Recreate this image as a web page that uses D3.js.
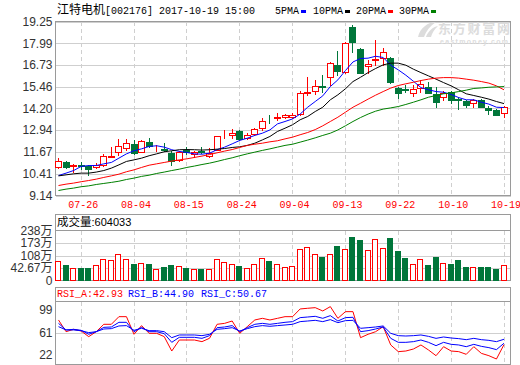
<!DOCTYPE html>
<html><head><meta charset="utf-8">
<script src="https://cdn.jsdelivr.net/npm/d3@7"></script>
<style>body{margin:0;background:#fff;overflow:hidden}</style>
</head><body><svg id="c" width="520" height="365"></svg>
<script>
const dates = ["07-21","07-24","07-25","07-26","07-27","07-28","07-31","08-01","08-02","08-03","08-04","08-07","08-08","08-09","08-10","08-11","08-14","08-15","08-16","08-17","08-18","08-21","08-22","08-23","08-24","08-25","08-28","08-29","08-30","08-31","09-01","09-04","09-05","09-06","09-07","09-08","09-11","09-12","09-13","09-14","09-15","09-18","09-19","09-20","09-21","09-22","09-25","09-26","09-27","09-28","09-29","10-09","10-10","10-11","10-12","10-13","10-16","10-17","10-18","10-19"];
const open  = [10.79,11.08,10.83,10.92,10.83,10.81,10.92,11.39,11.64,11.89,12.14,11.68,12.26,11.93,11.83,11.60,11.21,11.76,11.54,11.74,11.41,11.80,12.57,12.63,12.90,12.47,12.70,13.05,13.55,13.65,13.73,13.73,13.87,15.08,15.24,15.49,16.01,16.73,16.30,18.92,17.64,16.67,17.04,17.12,17.12,15.41,15.32,15.08,15.38,15.47,15.05,14.85,15.14,14.74,14.64,14.50,14.70,14.25,14.12,13.92];
const high  = [11.31,11.14,10.96,11.06,10.89,11.02,11.54,11.93,12.45,12.45,12.34,12.37,12.51,12.08,12.18,11.70,11.70,11.95,11.74,11.95,11.89,12.61,12.95,12.99,12.95,12.76,13.05,13.63,13.83,13.92,13.87,13.92,15.24,16.01,15.86,16.15,16.92,17.56,18.08,19.05,17.70,17.02,18.18,17.70,17.18,15.47,15.57,15.57,15.86,15.76,15.47,15.24,15.22,14.89,14.70,14.76,14.76,14.35,14.15,14.35];
const low   = [10.73,10.73,10.48,10.69,10.34,10.73,10.88,11.37,11.50,11.80,11.56,11.64,11.95,11.70,11.70,10.92,11.12,11.56,11.37,11.60,11.37,11.76,12.47,12.47,12.37,12.43,12.66,12.95,13.34,13.54,13.67,13.63,13.83,14.99,15.05,15.18,15.57,16.15,16.25,17.45,16.25,16.25,16.73,16.73,15.70,14.83,15.18,14.93,15.18,15.08,14.27,14.70,14.50,14.15,14.27,14.31,14.27,13.88,13.79,13.73];
const close = [11.12,10.79,10.92,10.86,10.69,10.92,11.45,11.43,11.99,12.18,11.60,12.32,12.03,11.97,11.76,11.17,11.66,11.64,11.64,11.66,11.60,12.57,12.61,12.80,12.43,12.66,12.99,13.44,13.50,13.71,13.79,13.79,15.08,15.14,15.51,15.43,16.83,16.40,17.99,18.03,16.28,16.79,17.08,17.47,15.76,15.08,15.26,15.34,15.61,15.12,14.60,15.08,14.66,14.68,14.41,14.70,14.31,14.12,13.83,14.27];
const ma5  = [10.30,10.44,10.59,10.83,10.88,10.88,10.98,11.06,11.31,11.56,11.74,11.85,11.99,12.03,11.95,11.80,11.70,11.64,11.56,11.54,11.60,11.80,11.95,12.14,12.34,12.47,12.63,12.76,12.95,13.30,13.44,13.59,13.87,14.27,14.60,14.93,15.47,15.86,16.40,16.90,17.10,17.12,17.23,17.16,16.71,16.44,16.13,15.78,15.41,15.28,15.18,15.14,15.01,14.83,14.70,14.70,14.56,14.45,14.27,14.25];
const ma10 = [10.28,10.34,10.40,10.44,10.44,10.50,10.59,10.73,10.92,11.12,11.21,11.31,11.45,11.56,11.68,11.74,11.80,11.81,11.80,11.78,11.80,11.83,11.87,11.93,11.97,12.05,12.18,12.37,12.57,12.86,13.05,13.25,13.54,13.73,14.02,14.27,14.70,14.99,15.34,15.76,16.01,16.28,16.52,16.73,16.83,16.83,16.71,16.48,16.28,16.09,15.90,15.70,15.51,15.28,15.05,14.95,14.85,14.74,14.60,14.48];
const ma20 = [9.72,9.80,9.86,9.94,10.01,10.09,10.19,10.28,10.38,10.52,10.63,10.77,10.90,10.98,11.06,11.14,11.21,11.27,11.35,11.43,11.52,11.62,11.72,11.81,11.93,12.05,12.12,12.18,12.26,12.32,12.43,12.53,12.67,12.80,12.97,13.19,13.44,13.69,13.98,14.27,14.50,14.74,14.97,15.18,15.38,15.53,15.63,15.72,15.82,15.90,15.96,15.99,15.99,15.96,15.90,15.84,15.76,15.67,15.51,15.28];
const ma30 = [9.43,9.51,9.57,9.65,9.70,9.78,9.84,9.90,9.97,10.07,10.15,10.25,10.32,10.42,10.50,10.59,10.67,10.77,10.85,10.94,11.02,11.12,11.23,11.33,11.45,11.56,11.66,11.76,11.85,11.95,12.05,12.12,12.24,12.36,12.49,12.63,12.76,12.95,13.19,13.44,13.67,13.87,14.04,14.16,14.23,14.31,14.43,14.56,14.70,14.85,14.95,15.05,15.10,15.18,15.26,15.36,15.39,15.43,15.45,15.47];
const volume = [78,57,42.5,42.5,42.5,57,88.6,83.3,115,88.6,62,67.4,62,35.7,47.8,57,51.5,42.5,35.7,35.7,35.7,88.6,74.3,65.8,51.5,42.5,65.8,95.5,78,65.8,46.2,51.5,141.5,152,113.4,99.2,113.4,159,141.5,205,190.7,136.2,194.4,146.8,201.3,131,95.5,62,88.6,57,99.2,67.4,62,83.3,46.2,46.2,46.2,46.2,35.7,60.4];
const rsiA = [78.7,61.7,65.1,62.7,54.5,61.7,72.4,72.4,83.5,83.5,57.9,70.5,59.3,59.3,54.5,33.6,49.6,49.6,49.6,47.2,52.1,72.4,73.8,77.2,59.3,69.0,78.7,81.1,78.7,81.1,83.5,83.5,94.7,95.7,96.6,91.8,98.1,81.1,90.8,90.8,53.0,57.9,61.7,69.0,42.4,32.7,33.6,36.5,42.4,35.1,26.8,39.9,33.6,32.7,28.8,39.9,30.2,26.8,22.0,42.93];
const rsiB = [73.8,64.2,65.1,63.7,57.9,61.7,68.0,68.5,75.3,75.3,61.7,68.0,61.7,61.7,58.8,46.2,53.5,53.5,53.5,52.0,55.9,67.5,68.5,70.5,61.7,67.5,72.4,73.8,72.4,73.8,75.3,76.3,82.1,83.0,84.0,81.1,85.0,77.2,82.1,82.6,61.7,63.2,65.6,68.5,52.0,46.2,46.2,47.2,49.6,46.2,41.4,46.2,43.3,42.4,39.9,43.3,40.4,38.5,35.6,44.90];
const rsiC = [69.0,64.2,64.2,63.2,60.3,61.7,65.6,66.1,70.0,70.5,63.7,66.6,63.2,63.2,61.7,53.0,56.9,56.9,56.9,55.9,57.9,65.1,66.1,67.5,62.7,66.1,69.0,70.5,69.5,70.5,71.4,72.4,76.3,77.2,78.2,76.3,79.2,74.8,77.7,78.2,66.6,67.5,68.5,70.0,59.3,55.9,55.4,55.9,56.9,54.9,52.0,54.0,52.5,51.6,50.1,52.0,50.1,49.1,47.2,50.67];
const priceTicks = [9.14,10.41,11.67,12.94,14.20,15.46,16.73,17.99,19.25];
const dateTicks = ["07-26","08-04","08-15","08-24","09-04","09-13","09-22","10-10","10-19"];
const volTickValues = [-22.54,42.67,107.88,173.09,238.3];
const volTickLabels = ["0","42.67万","108万","173万","238万"];
const rsiTickValues = [22,60.5,99];
const rsiTickLabels = ["22","61","99"];
const maNames = ["5PMA","10PMA","20PMA","30PMA"];
const maColors = ["#0000ff","#000000","#ff0000","#008000"];
const stockTitle = "江特电机";
const stockInfo = "[002176] 2017-10-19 15:00";
const volHeader = ["成交量", ":604033"];
const rsiHeader = ["RSI_A:42.93","RSI_B:44.90","RSI_C:50.67"];

const RED="#ff0000", GRN="#00763a", GRID="#cfcfcf", BORDER="#9a9a9a";
const svg=d3.select("#c");
svg.append("rect").attr("width",520).attr("height",365).attr("fill","#fff");
const L=55.5, R=510.5;
const P={mt:21.5,mb:195.5, vt:214.5, vh:230.5, vb:280.5, rt:287.5, rh:301.5, rb:364.5};
const x=d3.scalePoint().domain(dates).range([58,503.5]);
const xi=d=>Math.round(x(d));
const y=d3.scaleLinear().domain([9.14,19.25]).range([P.mb,P.mt]);
const yv=d3.scaleLinear().domain([volTickValues[0],volTickValues[4]]).range([P.vb,P.vh]);
const yr=d3.scaleLinear().domain([22,99]).range([359,306]);
const idx=d3.range(dates.length);
const sansF='"Liberation Sans","Noto Sans CJK SC",Arial,sans-serif';
const monoF='"Liberation Mono","DejaVu Sans Mono","Noto Sans CJK SC",monospace';

// grids
const g0=svg.append("g").attr("shape-rendering","crispEdges");
g0.selectAll(".hg").data(priceTicks).join("line").attr("x1",L).attr("x2",R)
 .attr("y1",d=>Math.round(y(d))+0.5).attr("y2",d=>Math.round(y(d))+0.5).attr("stroke",GRID);
g0.selectAll(".hv").data(volTickValues.slice(1,4)).join("line").attr("x1",L).attr("x2",R)
 .attr("y1",d=>Math.round(yv(d))+0.5).attr("y2",d=>Math.round(yv(d))+0.5).attr("stroke",GRID);
g0.append("line").attr("x1",L).attr("x2",R).attr("y1",Math.round(yr(60.5))+0.5).attr("y2",Math.round(yr(60.5))+0.5).attr("stroke",GRID);
[[P.mt,P.mb],[P.vh,P.vb],[P.rh,P.rb]].forEach(([a,b])=>{
 g0.append("g").selectAll("line").data(dateTicks).join("line")
  .attr("x1",d=>xi(d)+0.5).attr("x2",d=>xi(d)+0.5).attr("y1",a).attr("y2",b)
  .attr("stroke",GRID).attr("stroke-dasharray","4,3");
});
// watermark
const wm=svg.append("g").attr("fill","#dcdcdc");
wm.append("path").attr("d","M418,37 C420,28 428,22 436,22 C430,26 426,31 424,37 Z M426,37 C428,31 433,27 438,26 C434,30 432,33 431,37 Z");
wm.append("text").attr("x",438).attr("y",33).attr("font-family",'"Noto Sans CJK SC",sans-serif').attr("font-weight","bold").attr("font-size",13).attr("textLength",72).text("东方财富网");
wm.append("text").attr("x",440).attr("y",44).attr("font-family",sansF).attr("font-weight","bold").attr("font-size",7).attr("textLength",68).text("eastmoney.com");

// borders
const gb=svg.append("g").attr("fill","none").attr("stroke",BORDER).attr("shape-rendering","crispEdges");
gb.append("rect").attr("x",L).attr("y",P.mt).attr("width",R-L).attr("height",P.mb-P.mt);
gb.append("rect").attr("x",L).attr("y",P.vt).attr("width",R-L).attr("height",P.vb-P.vt);
gb.append("line").attr("x1",L).attr("x2",R).attr("y1",P.vh).attr("y2",P.vh);
gb.append("rect").attr("x",L).attr("y",P.rt).attr("width",R-L).attr("height",P.rb-P.rt);
gb.append("line").attr("x1",L).attr("x2",R).attr("y1",P.rh).attr("y2",P.rh);

// axes
function styleAxis(g){g.select(".domain").remove();g.selectAll("line").remove();
 g.selectAll("text").attr("font-family",sansF).attr("font-size",12).attr("fill","#333");}
svg.append("g").attr("transform",`translate(${L-2},0)`)
 .call(d3.axisLeft(y).tickValues(priceTicks).tickSize(0).tickPadding(1).tickFormat(d3.format(".2f"))).call(styleAxis);
svg.append("g").attr("transform",`translate(${L-2},0)`)
 .call(d3.axisLeft(yv).tickValues(volTickValues).tickSize(0).tickPadding(1).tickFormat((d,i)=>volTickLabels[i])).call(styleAxis);
const ra=svg.append("g").attr("transform",`translate(${L-2},0)`)
 .call(d3.axisLeft(yr).tickValues(rsiTickValues).tickSize(0).tickPadding(1).tickFormat((d,i)=>rsiTickLabels[i])).call(styleAxis);
ra.selectAll(".tick").attr("transform",(d,i)=>`translate(0,${yr(d)+[-4,0.5,4][i]})`);
const xa=svg.append("g").attr("transform",`translate(2,${P.mb+1})`)
 .call(d3.axisBottom(x).tickValues(dateTicks).tickSize(0).tickPadding(4));
xa.select(".domain").remove();
xa.selectAll("text").attr("font-family",monoF).attr("font-size",10).attr("fill",RED);

// candles
const up=i=>close[i]>=open[i];
const gc=svg.append("g").attr("shape-rendering","crispEdges");
const cg=gc.selectAll("g").data(idx).join("g");
cg.append("line").attr("x1",i=>xi(dates[i])+0.5).attr("x2",i=>xi(dates[i])+0.5)
 .attr("y1",i=>Math.round(y(high[i]))).attr("y2",i=>Math.round(y(low[i]))+1)
 .attr("stroke",i=>up(i)?RED:GRN);
cg.append("rect").attr("x",i=>xi(dates[i])-2.5).attr("width",6)
 .attr("y",i=>Math.round(y(Math.max(open[i],close[i])))+0.5)
 .attr("height",i=>Math.max(0,Math.round(y(Math.min(open[i],close[i])))-Math.round(y(Math.max(open[i],close[i])))))
 .attr("fill",i=>up(i)?"#fff":GRN).attr("stroke",i=>up(i)?RED:GRN);

// MA lines
[ma5,ma10,ma20,ma30].forEach((s,k)=>{
 svg.append("path").datum(s).attr("fill","none").attr("stroke",maColors[k]).attr("stroke-width",1)
  .attr("d",d3.line().x((d,i)=>x(dates[i])+0.5).y(d=>y(d)));
});

// volume
const gv=svg.append("g").attr("shape-rendering","crispEdges");
gv.selectAll("rect").data(idx).join("rect")
 .attr("x",i=>xi(dates[i])-2.5).attr("width",5)
 .attr("y",i=>Math.round(yv(volume[i]))+0.5)
 .attr("height",i=>P.vb-0.5-(Math.round(yv(volume[i]))+0.5))
 .attr("fill",i=>up(i)?"#fff":GRN).attr("stroke",i=>up(i)?RED:GRN);

// RSI
[[rsiA,RED],[rsiB,"#0000ff"],[rsiC,"#0000ff"]].forEach(([s,c])=>{
 svg.append("path").datum(s).attr("fill","none").attr("stroke",c).attr("stroke-width",1)
  .attr("d",d3.line().x((d,i)=>x(dates[i])+0.5).y(d=>yr(d)));
});

// headers
const t1=svg.append("text").attr("x",57).attr("y",14).attr("fill","#000");
t1.append("tspan").attr("font-family",'"Noto Sans CJK SC",sans-serif').attr("font-size",12).text(stockTitle);
t1.append("tspan").attr("font-family",monoF).attr("font-size",10).text(stockInfo);
const lg=svg.append("g");
const lgX=[275,313,356,399];
maNames.forEach((n,k)=>{
 const t=lg.append("text").attr("x",lgX[k]).attr("y",14).attr("font-family",monoF).attr("font-size",10).attr("fill","#000").text(n);
 const w=t.node().getComputedTextLength();
 lg.append("rect").attr("x",lgX[k]+w+2).attr("y",10).attr("width",5).attr("height",3).attr("fill",maColors[k]);
});
const vh=svg.append("text").attr("x",57).attr("y",226).attr("fill","#000");
vh.append("tspan").attr("font-family",'"Noto Sans CJK SC",sans-serif').attr("font-size",11.5).text(volHeader[0]);
vh.append("tspan").attr("font-family",sansF).attr("font-size",11).text(volHeader[1]);
const rx=[57,128,201], rc=[RED,"#0000ff","#0000ff"];
rsiHeader.forEach((h,k)=>svg.append("text").attr("x",rx[k]).attr("y",297).attr("font-family",monoF).attr("font-size",10).attr("fill",rc[k]).text(h));
</script></body></html>
